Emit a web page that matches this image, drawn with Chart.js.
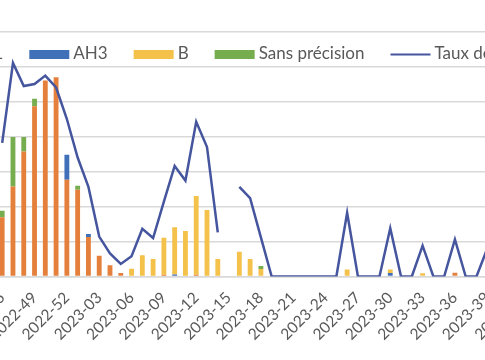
<!DOCTYPE html>
<html><head><meta charset="utf-8">
<script src="https://cdn.jsdelivr.net/npm/chart.js@4.4.1/dist/chart.umd.min.js"></script>
<style>
html,body{margin:0;padding:0;background:#fff;}
#wrap{position:relative;width:485px;height:360px;overflow:hidden;background:#fff;}
#cv{position:absolute;left:-80px;top:0;width:610px;height:360px;}
</style></head><body>
<div id="wrap"><canvas id="cv" width="610" height="360"></canvas></div>
<script>
// ---- data ----
const weeks = [
 '2022-46','2022-47','2022-48','2022-49','2022-50','2022-51','2022-52',
 '2023-01','2023-02','2023-03','2023-04','2023-05','2023-06','2023-07','2023-08','2023-09','2023-10',
 '2023-11','2023-12','2023-13','2023-14','2023-15','2023-16','2023-17','2023-18','2023-19','2023-20',
 '2023-21','2023-22','2023-23','2023-24','2023-25','2023-26','2023-27','2023-28','2023-29','2023-30',
 '2023-31','2023-32','2023-33','2023-34','2023-35','2023-36','2023-37','2023-38','2023-39','2023-40',
 '2023-41','2023-42'];
const ah1 = [33.8,51.5,71.5,97.3,112,113.8,55.3, 49.6,22.6,11.9,6.4,2,0,0,0,1,0, 0,1,0,0,null,0,0,0,0,0, 0,0,0,0,0,0,0,0,0,0, 0,0,0,0,0,2.2,0,0,0,null, null,null];
const ah3 = [0,0,0,0,0,0,14.3, 0,1.7,0,0,0,0,0,0,0,1.2, 0,0,0,0,null,0,0,0,0,0, 0,0,0,0,0,0,0,0,0,2, 0,0,0,0,0,0,0,0,0,null, null,null];
const bVals = [0,0,0,0,0,0,0, 0,0,0,0,0,4.5,12.1,10,21.2,26.9, 26,45,38,10,null,14.2,10,4.3,0,0, 0,0,0,0,0,4,0,0,0,2, 0,0,1.8,0,0,0,0,0,0,null, null,null];
const sansPrecision = [3.8,28.2,8.2,4.3,0,0,0, 2.3,0,0,0,0,0,0,0,0,0, 0,0,0,0,null,0,0,1.7,0,0, 0,0,0,0,0,0,0,0,0,0, 0,0,0,0,0,0,0,0,0,null, null,null];
const tauxPositivite = [19.1,30.5,27.2,27.5,28.7,27.0,22.5, 17.0,12.8,5.7,3.3,1.8,2.9,6.8,5.5,10.7,15.8, 13.7,22.1,18.5,6.3,null,12.8,11.2,5.6,0,0, 0,0,0,0,0,9.1,0,0,0,6.9, 0,0,4.4,0,0,5.3,0,0,4.0,null, null,null];

const C_AH1 = '#E5803C', C_AH3 = '#4070B8', C_B = '#F4C24A', C_SANS = '#76AD4F', C_LINE = '#45559E';
const OFF = 80; // hidden left part of canvas
const FONT = 'Lato, Carlito, "Liberation Sans", sans-serif';

const legendPlugin = {
  id: 'sideLegend',
  afterDraw(chart) {
    const ctx = chart.ctx;
    ctx.save();
    ctx.font = '17px ' + FONT;
    ctx.textBaseline = 'middle';
    ctx.fillStyle = '#595959';
    const boxW = 40, boxH = 9, gapT = 4, gapI = 26, cy = 54.5;
    const ds = chart.data.datasets;
    const anchor = OFF + 29.3; // box of 2nd item
    let x = anchor - gapI - ctx.measureText(ds[0].label).width - gapT - boxW;
    ds.forEach((d) => {
      if (d.type === 'line') {
        ctx.strokeStyle = d.borderColor; ctx.lineWidth = 2;
        ctx.beginPath(); ctx.moveTo(x, cy); ctx.lineTo(x + boxW, cy); ctx.stroke();
      } else {
        ctx.fillStyle = d.backgroundColor;
        ctx.fillRect(x, cy - boxH / 2, boxW, boxH);
      }
      x += boxW + gapT;
      ctx.fillStyle = '#595959';
      ctx.fillText(d.label, x, cy - 1);
      x += ctx.measureText(d.label).width + gapI;
    });
    ctx.restore();
  }
};

const barCommon = {type: 'bar', yAxisID: 'y', stack: 's', order: 1, categoryPercentage: 1, barPercentage: 0.45, borderWidth: 0};

new Chart(document.getElementById('cv'), {
  data: {
    labels: weeks,
    datasets: [
      Object.assign({label: 'AH1', data: ah1, backgroundColor: C_AH1}, barCommon),
      Object.assign({label: 'AH3', data: ah3, backgroundColor: C_AH3}, barCommon),
      Object.assign({label: 'B', data: bVals, backgroundColor: C_B}, barCommon),
      Object.assign({label: 'Sans précision', data: sansPrecision, backgroundColor: C_SANS}, barCommon),
      {type: 'line', label: 'Taux de positivité (%)', data: tauxPositivite, yAxisID: 'y2', order: 0,
       borderColor: C_LINE, backgroundColor: C_LINE, borderWidth: 2.5, pointRadius: 0, tension: 0, spanGaps: false}
    ]
  },
  options: {
    responsive: false,
    animation: false,
    devicePixelRatio: 1,
    layout: {padding: {left: 76.8, right: 5, top: 31.5, bottom: 0}},
    plugins: {legend: {display: false}, tooltip: {enabled: false}},
    scales: {
      x: {
        stacked: true, offset: true,
        grid: {display: false},
        border: {display: true, color: '#D9D9D9', width: 1.5},
        ticks: {
          autoSkip: false, maxRotation: 45, minRotation: 45, padding: 4,
          color: '#595959', font: {family: FONT, size: 15.5},
          callback: function(v, i) { return i % 3 === 0 ? this.getLabelForValue(v) : ''; }
        },
        afterFit(s) { s.height = 83.5; s.paddingLeft = 0; s.paddingRight = 0; }
      },
      y: {
        stacked: true, position: 'left', min: 0, max: 140,
        ticks: {display: false, stepSize: 20},
        grid: {color: '#D9D9D9', lineWidth: 1.5, drawTicks: false},
        border: {display: false},
        afterFit(s) { s.width = 0; }
      },
      y2: {display: false, position: 'right', min: 0, max: 35}
    }
  },
  plugins: [legendPlugin]
});
</script>
</body></html>
